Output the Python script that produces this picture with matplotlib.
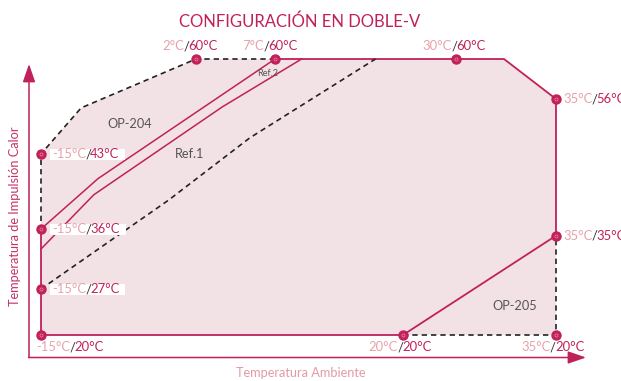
import numpy as np
import matplotlib.pyplot as plt
from matplotlib.patches import Rectangle

plt.rcParams["font.family"] = ["Lato", "DejaVu Sans"]

CRIMSON = "#c0215a"
PINK = "#e8a2ab"
FILL = "#f3e2e5"
GREY = "#555555"
SLASH = "#333333"

# labelled corners: ambient temp / flow temp (°C)
amb_pts = [-15, -15, -15, -15, 2, 7, 30, 35, 35, 20, 35]
flow_pts = [20, 27, 36, 43, 60, 60, 60, 56, 35, 20, 20]

# whole operating envelope (filled)
env_amb = [-15, 35, 35, 32.4, 2, -10.6, -15]
env_flow = [20, 20, 56, 60, 60, 53.9, 43]

# solid envelope border
solid_amb = [-15, -15, 20, 35, 35, 32.4, 7]
solid_flow = [36, 20, 20, 35, 56, 60, 60]

# OP-204 dashed border
op204_amb = [7, 2, -10.6, -15, -15]
op204_flow = [60, 60, 53.9, 43, 36]

# OP-205 dashed border
op205_amb = [20, 35, 35]
op205_flow = [20, 20, 35]

# inner curves
line_a_amb = [-15, -8.75, 7]
line_a_flow = [36, 40.7, 60]
line_b_amb = [-15, -9.2, 3.65, 9.7]
line_b_flow = [33, 39.2, 54.1, 60]
ref_amb = [-15, -1, 5.4, 17.2]
ref_flow = [27, 38.7, 46.8, 60]

# schematic (non-linear) axis breakpoints: temperature -> pixel
x_temp = [-15, 2, 7, 20, 30, 35]
x_pix = [41, 196, 275, 403, 456, 556]
y_temp = [20, 27, 36, 43, 56, 60]
y_pix = [-335, -289, -229, -154, -99, -59]


def piecewise(src, dst):
    src = np.asarray(src, float)
    dst = np.asarray(dst, float)
    lo_s = (dst[1] - dst[0]) / (src[1] - src[0])
    hi_s = (dst[-1] - dst[-2]) / (src[-1] - src[-2])

    def f(v):
        v = np.asarray(v, float)
        out = np.interp(v, src, dst)
        out = np.where(v < src[0], dst[0] + (v - src[0]) * lo_s, out)
        out = np.where(v > src[-1], dst[-1] + (v - src[-1]) * hi_s, out)
        return out
    return f


W, H = 621, 381
fig = plt.figure(figsize=(6.21, 3.81), dpi=100)
ax = fig.add_axes([0, 0, 1, 1])
ax.set_xscale("function", functions=(piecewise(x_temp, x_pix), piecewise(x_pix, x_temp)))
ax.set_yscale("function", functions=(piecewise(y_temp, y_pix), piecewise(y_pix, y_temp)))
ax.set_xlim(piecewise(x_pix, x_temp)(0), piecewise(x_pix, x_temp)(W))
ax.set_ylim(piecewise(y_pix, y_temp)(-H), piecewise(y_pix, y_temp)(0))
ax.axis("off")


def fx(p):
    return p / W


def fy(p):
    return 1 - p / H


#Fill
ax.fill(env_amb, env_flow, color=FILL, lw=0, zorder=1)

#Borders and curves
ax.plot(solid_amb, solid_flow, color=CRIMSON, lw=1.3, zorder=3)
dash = dict(color="#222222", lw=1.2, ls=(0, (3.2, 2.4)), zorder=3)
ax.plot(op204_amb, op204_flow, **dash)
ax.plot(op205_amb, op205_flow, **dash)
ax.plot(ref_amb, ref_flow, **dash)
ax.plot(line_a_amb, line_a_flow, color=CRIMSON, lw=1.1, zorder=3)
ax.plot(line_b_amb, line_b_flow, color=CRIMSON, lw=1.1, zorder=3)

#Points
ax.plot(amb_pts, flow_pts, "o", ms=6.5, color=CRIMSON, zorder=8)
ax.plot(amb_pts, flow_pts, "o", ms=2.2, mfc="none", mec="#e9799a", mew=0.6, zorder=9)

#Axis arrows
arrow = dict(arrowstyle="-|>,head_length=1.1,head_width=0.38", color=CRIMSON, lw=1.1,
             shrinkA=0, shrinkB=0, mutation_scale=10)
ax.annotate("", xy=(fx(29), fy(64)), xytext=(fx(29), fy(357.5)), xycoords="figure fraction",
            arrowprops=arrow)
ax.annotate("", xy=(fx(586), fy(357.5)), xytext=(fx(28.5), fy(357.5)), xycoords="figure fraction",
            arrowprops=arrow)

#Point labels: (dx, dy) in px, alignment, white box
FS = 9.4
label_pos = [(-5, -12, "left", False), (11, 0, "left", True), (11, 0, "left", True),
             (11, 0, "left", True), (-6, 13, "center", False), (-5, 13, "center", False),
             (-2, 13, "center", False), (7, 0, "left", False), (7, 0, "left", False),
             (-3, -12, "center", False), (-3, -12, "center", False)]

tags = []
for a, f, (dx, dy, ha, box) in zip(amb_pts, flow_pts, label_pos):
    t1 = ax.annotate(f"{a}°C", (a, f), xytext=(dx * 0.72, dy * 0.72), textcoords="offset points",
                     color=PINK, fontsize=FS, va="center", ha="left", zorder=10)
    t2 = ax.annotate("/", (1, 0), xycoords=t1, xytext=(-0.6, 0), textcoords="offset points",
                     color=SLASH, fontsize=FS, va="bottom", ha="left", zorder=10)
    t3 = ax.annotate(f"{f}°C", (1, 0), xycoords=t2, xytext=(-0.6, 0), textcoords="offset points",
                     color=CRIMSON, fontsize=FS, va="bottom", ha="left", zorder=10)
    tags.append((t1, t3, dx, dy, ha, box))

fig.canvas.draw()
for t1, t3, dx, dy, ha, box in tags:
    if ha == "center":
        w = t3.get_window_extent().x1 - t1.get_window_extent().x0
        t1.xyann = ((dx - w / 2) * 0.72, dy * 0.72)

fig.canvas.draw()
inv = fig.transFigure.inverted()
for t1, t3, dx, dy, ha, box in tags:
    if box:
        e1 = t1.get_window_extent()
        e3 = t3.get_window_extent()
        (x0, y0) = inv.transform((e1.x0 - 2, e1.y0 + 0.5))
        (x1, y1) = inv.transform((e3.x1 + 6, e1.y1 - 0.5))
        ax.add_patch(Rectangle((x0, y0), x1 - x0, y1 - y0, transform=fig.transFigure,
                               fc="white", ec="none", zorder=7, clip_on=False))

#Region names
ax.text(fx(130), fy(124), "OP-204", transform=fig.transFigure, ha="center", va="center",
        fontsize=9.2, color=GREY, zorder=10)
ax.text(fx(190), fy(154), "Ref.1", transform=fig.transFigure, ha="center", va="center",
        fontsize=9.2, color=GREY, zorder=10)
ax.text(fx(268), fy(73), "Ref.2", transform=fig.transFigure, ha="center", va="center",
        fontsize=6.5, color=GREY, zorder=10)
ax.text(fx(515), fy(306), "OP-205", transform=fig.transFigure, ha="center", va="center",
        fontsize=9.2, color=GREY, zorder=10)

#Titles
fig.text(fx(300), fy(22), "CONFIGURACIÓN EN DOBLE-V", ha="center", va="center",
         fontsize=12, color=CRIMSON)
fig.text(fx(15), fy(216), "Temperatura de Impulsión Calor", rotation=90, ha="center",
         va="center", fontsize=9.2, color="#c4336b")
fig.text(fx(301), fy(373), "Temperatura Ambiente", ha="center", va="center",
         fontsize=9.2, color="#e29aa5")

plt.savefig("out.png", dpi=100)
